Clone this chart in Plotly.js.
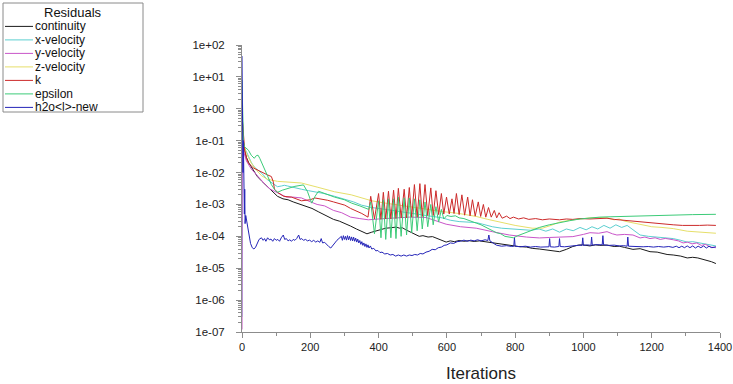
<!DOCTYPE html>
<html><head><meta charset="utf-8">
<script src="https://cdn.plot.ly/plotly-3.0.1.min.js"></script>
<style>html,body{margin:0;padding:0;background:#fff;}#chart{width:733px;height:384px;}</style>
</head><body><div id="chart"></div>
<script>
// ---- data (iteration, residual) ----
const seriesNames = ['continuity','x-velocity','y-velocity','z-velocity','k','epsilon','h2o&lt;l&gt;-new'];
const seriesColors = ['#1a1a1a','#5ccfd0','#c955c9','#e6df6a','#cc2a2a','#3ccb78','#2424b8'];

const continuity = [[0,1.0],[2,0.3],[4,0.09],[8,0.05],[13,0.03],[20,0.02],[33,0.012],[45,0.0075],[57,0.0055],[74,0.0036],[90,0.0024],[104,0.0018],[120,0.0015],[135,0.0014],[150,0.0012],[172,0.001],[190,8.5e-4],[205,7.5e-4],[225,5.8e-4],[245,4.5e-4],[268,3.4e-4],[285,3e-4],[300,2.6e-4],[318,2.1e-4],[335,1.7e-4],[350,1.4e-4],[366,1.2e-4],[380,1.35e-4],[395,1.5e-4],[410,1.6e-4],[421,1.8e-4],[435,1.85e-4],[451,1.95e-4],[462,1.8e-4],[470,1.85e-4],[480,1.6e-4],[495,1.35e-4],[508,1.15e-4],[519,1e-4],[530,1.05e-4],[545,9.5e-5],[558,9.8e-5],[569,8.9e-5],[583,7.5e-5],[598,6.6e-5],[610,7.2e-5],[622,6.8e-5],[636,7.4e-5],[650,7e-5],[665,7.3e-5],[680,6.9e-5],[695,7.2e-5],[710,6.8e-5],[725,6.5e-5],[742,6e-5],[760,5.6e-5],[775,5.2e-5],[792,5e-5],[810,4.8e-5],[833,4.6e-5],[850,4.2e-5],[871,4e-5],[892,3.7e-5],[910,3.4e-5],[930,3.3e-5],[950,3.9e-5],[969,4.8e-5],[985,5.3e-5],[998,5.4e-5],[1019,5e-5],[1035,5.4e-5],[1048,5.2e-5],[1069,5.3e-5],[1090,4.8e-5],[1105,4.9e-5],[1120,4.5e-5],[1145,3.9e-5],[1166,4.1e-5],[1180,3.6e-5],[1195,3.3e-5],[1216,3.2e-5],[1230,2.9e-5],[1245,2.7e-5],[1263,2.6e-5],[1285,2.4e-5],[1304,2.1e-5],[1320,2.2e-5],[1335,2.1e-5],[1350,1.9e-5],[1363,1.8e-5],[1375,1.6e-5],[1388,1.4e-5]];

const xVelocity = [[0,3e-7],[1,0.2],[4,0.1],[7,0.06],[13,0.045],[20,0.03],[28,0.02],[36,0.015],[48,0.012],[60,0.009],[74,0.006],[90,0.0045],[104,0.0036],[116,0.0038],[124,0.004],[133,0.0038],[150,0.0034],[174,0.003],[195,0.0027],[213,0.0025],[240,0.0022],[271,0.0018],[300,0.0015],[327,0.0012],[350,9.5e-4],[366,8.5e-4],[380,8e-4],[420,7e-4],[460,6e-4],[500,5e-4],[545,4.4e-4],[586,3.8e-4],[610,3.2e-4],[636,2.9e-4],[660,2.8e-4],[686,2.7e-4],[705,2.4e-4],[733,2e-4],[760,1.8e-4],[792,1.7e-4],[822,1.6e-4],[845,1.55e-4],[870,1.7e-4],[890,1.45e-4],[910,1.7e-4],[930,1.35e-4],[950,1.7e-4],[970,1.5e-4],[990,1.9e-4],[1008,1.6e-4],[1025,2e-4],[1042,1.7e-4],[1060,2.2e-4],[1078,1.8e-4],[1095,2.3e-4],[1112,1.9e-4],[1128,2.2e-4],[1145,1.6e-4],[1166,1.1e-4],[1190,1e-4],[1215,9.5e-5],[1245,8.9e-5],[1263,8.5e-5],[1285,7.5e-5],[1304,6.6e-5],[1320,6.8e-5],[1342,6.2e-5],[1363,5.6e-5],[1388,5e-5]];

const yVelocity = [[0,1.2e-7],[1,0.08],[4,0.05],[13,0.023],[27,0.013],[42,0.0085],[57,0.0055],[70,0.004],[83,0.003],[100,0.0024],[116,0.002],[130,0.0017],[150,0.0017],[174,0.0016],[201,0.0012],[220,0.001],[242,9e-4],[268,6.5e-4],[292,5.5e-4],[318,4e-4],[345,3.6e-4],[370,3.3e-4],[400,3.5e-4],[440,3.8e-4],[490,4e-4],[539,3.9e-4],[570,3e-4],[598,2.4e-4],[640,2e-4],[686,1.8e-4],[733,1.4e-4],[783,1.1e-4],[833,9.5e-5],[871,8.9e-5],[900,9.2e-5],[930,9.5e-5],[969,9.8e-5],[1000,1.15e-4],[1019,1.3e-4],[1045,1.25e-4],[1069,1.4e-4],[1085,1.2e-4],[1098,1.1e-4],[1120,1.15e-4],[1145,1.1e-4],[1166,8.9e-5],[1180,9.5e-5],[1195,8.5e-5],[1210,9e-5],[1225,8e-5],[1240,8.6e-5],[1263,7.8e-5],[1278,7.2e-5],[1292,6.2e-5],[1305,6.6e-5],[1318,5.8e-5],[1332,6.2e-5],[1345,5.2e-5],[1358,5.6e-5],[1372,4.6e-5],[1388,4.4e-5]];

const zVelocity = [[0,0.4],[2,0.3],[4,0.08],[13,0.04],[27,0.02],[42,0.012],[57,0.008],[74,0.0062],[104,0.0053],[140,0.005],[174,0.0047],[220,0.0035],[271,0.0025],[320,0.002],[351,0.0016],[380,0.0013],[420,0.0011],[460,9.5e-4],[500,8e-4],[540,7e-4],[586,6e-4],[636,5.2e-4],[686,4.2e-4],[720,3.4e-4],[755,2.8e-4],[800,2.2e-4],[850,1.8e-4],[880,1.8e-4],[905,2.2e-4],[930,2.8e-4],[960,3.2e-4],[990,3.5e-4],[1019,3.8e-4],[1045,3.9e-4],[1069,3.8e-4],[1090,3.3e-4],[1105,3.5e-4],[1120,3e-4],[1145,2.6e-4],[1170,2.3e-4],[1200,2e-4],[1230,1.9e-4],[1263,1.75e-4],[1304,1.45e-4],[1340,1.35e-4],[1388,1.25e-4]];

const kResidual = [[0,0.6],[2,0.3],[4,0.15],[8,0.05],[13,0.028],[19,0.02],[33,0.014],[45,0.012],[57,0.01],[74,0.0085],[86,0.0075],[92,0.005],[95,0.003],[104,0.0024],[122,0.0018],[145,0.0017],[174,0.0013],[200,0.0014],[213,0.0016],[230,0.0015],[251,1.35e-3],[268,1.2e-3],[301,9.5e-4],[318,7.5e-4],[351,5.2e-4],[369,4e-4],
 [377,1.8e-3],[388,3.5e-4],[400,2.2e-3],[407,3.4e-4],[414,2.4e-3],[421,3.5e-4],[429,2.6e-3],[436,3.5e-4],[444,2.8e-3],[451,3.6e-4],[458,3.2e-3],[466,3.8e-4],[475,3e-3],[482,3.8e-4],[490,3.4e-3],[497,4e-4],[505,4.2e-3],[513,4e-4],[521,4.5e-3],[528,4.2e-4],[536,4.2e-3],[544,4.5e-4],[553,3.3e-3],[560,4.5e-4],[568,2.7e-3],[576,4.8e-4],[584,2.2e-3],[591,5e-4],[599,1.7e-3],[607,5e-4],[615,1.5e-3],[621,5.2e-4],[628,2.2e-3],[636,4.8e-4],[644,2e-3],[652,4.6e-4],[661,1.7e-3],[668,4.4e-4],[675,1.4e-3],[683,4.3e-4],[692,1.2e-3],[699,4.2e-4],[707,1e-3],[714,4e-4],[722,8e-4],[730,4e-4],[739,6.5e-4],[746,3.8e-4],[753,5.5e-4],[762,3.7e-4],[775,4.3e-4],[785,3.6e-4],[795,4e-4],[810,3.5e-4],[825,3.8e-4],[840,3.4e-4],[860,3.6e-4],[880,3.3e-4],[900,3.5e-4],[930,3.3e-4],[950,3.5e-4],[969,3.4e-4],[990,3.6e-4],[1019,3.5e-4],[1045,3.7e-4],[1069,3.7e-4],[1090,3.4e-4],[1116,3.2e-4],[1145,2.9e-4],[1166,2.8e-4],[1195,2.6e-4],[1216,2.55e-4],[1245,2.35e-4],[1263,2.3e-4],[1290,2.2e-4],[1313,2.15e-4],[1340,2.2e-4],[1363,2.25e-4],[1388,2.2e-4]];

const epsilon = [[0,8],[1,1],[2,0.3],[4,0.1],[7,0.065],[13,0.058],[19,0.05],[27,0.035],[36,0.028],[42,0.034],[47,0.035],[52,0.028],[58,0.02],[66,0.012],[75,0.007],[86,0.0042],[95,0.003],[104,0.0024],[118,0.0028],[133,0.0032],[155,0.0037],[180,0.0041],[192,0.0025],[204,0.0011],[214,0.0018],[224,0.0026],[245,0.0021],[271,0.0017],[300,0.0014],[321,0.0011],[345,9e-4],[360,7.8e-4],[371,7e-4],
 [377,1.2e-3],[388,1.2e-4],[400,1.3e-3],[407,9e-5],[414,1.4e-3],[421,8e-5],[429,1.5e-3],[436,9e-5],[444,1.5e-3],[451,8.5e-5],[458,1.7e-3],[466,1e-4],[475,1.6e-3],[482,1.1e-4],[490,1.6e-3],[497,1.3e-4],[505,1.5e-3],[513,1.5e-4],[521,1.4e-3],[528,1.7e-4],[536,1.2e-3],[544,2e-4],[553,1e-3],[560,2.3e-4],[568,8.5e-4],[576,2.8e-4],[584,7e-4],[591,3.5e-4],[600,4.5e-4],[612,4.2e-4],[625,4.4e-4],[636,3.8e-4],[650,3.6e-4],[668,3e-4],[686,2.6e-4],[700,2.3e-4],[715,1.9e-4],[730,1.6e-4],[745,1.3e-4],[758,1.2e-4],[770,1e-4],[782,9.5e-5],[795,9e-5],[808,1.05e-4],[822,1.2e-4],[845,1.5e-4],[871,1.9e-4],[900,2.3e-4],[930,2.7e-4],[960,3.1e-4],[990,3.5e-4],[1020,3.8e-4],[1048,4e-4],[1078,4.1e-4],[1110,4.2e-4],[1140,4.3e-4],[1166,4.4e-4],[1215,4.5e-4],[1263,4.6e-4],[1320,4.8e-4],[1388,4.9e-4]];

const h2oNew = [[0,45],[1,0.05],[2,0.5],[3,0.01],[4,0.1],[5,0.002],[6,0.03],[7,5e-4],[8,0.003],[9,2.5e-4],[11,4.5e-4],[13,3.5e-4],[15,2.2e-4],[18,1.5e-4],[21,1e-4],[25,6e-5],[30,4.4e-5],[35,4e-5],[40,4.6e-5],[45,6e-5],[50,8e-5],[57,9e-5],[62,7.5e-5],[66,8.5e-5],[70,7e-5],[75,9e-5],[80,7.8e-5],[85,8.2e-5],[90,7e-5],[95,8.5e-5],[100,7.5e-5],[105,8e-5],[110,7e-5],[115,9e-5],[121,1.1e-4],[125,8e-5],[130,8.5e-5],[135,7.2e-5],[140,7.8e-5],[145,7e-5],[150,8e-5],[155,7.5e-5],[160,8.5e-5],[166,1.1e-4],[170,8e-5],[175,8.5e-5],[180,7.5e-5],[186,8e-5],[192,7.2e-5],[198,7.6e-5],[204,6.8e-5],[210,7.5e-5],[216,6.6e-5],[222,7.2e-5],[228,6.5e-5],[232,8.5e-5],[236,6.2e-5],[242,6.5e-5],[248,5.5e-5],[254,4.8e-5],[260,4.3e-5],[266,5e-5],[272,6.2e-5],[278,7.5e-5],[284,8.5e-5],[288,9.5e-5],
 [291,1e-4],[294,7.5e-5],[297,1.05e-4],[300,8e-5],[303,1e-4],[306,7.6e-5],[309,1.05e-4],[312,7.8e-5],[315,1e-4],[318,7.4e-5],[321,9.6e-5],[324,7.2e-5],[327,9.4e-5],[330,7e-5],[333,8.8e-5],[336,6.6e-5],[339,8.2e-5],[342,6.2e-5],[345,7.4e-5],[348,5.6e-5],[351,6.8e-5],[354,5.2e-5],[357,6.2e-5],[360,4.8e-5],[363,5.8e-5],[366,4.5e-5],[369,5.4e-5],[372,4.3e-5],[376,5e-5],[380,4e-5],[386,4.2e-5],[392,3.5e-5],[398,3.6e-5],[404,3.1e-5],[410,3.2e-5],[418,2.8e-5],[426,2.9e-5],[434,2.6e-5],[442,2.7e-5],[450,2.4e-5],[458,2.6e-5],[466,2.4e-5],[474,2.6e-5],[482,2.4e-5],[490,2.6e-5],[498,2.5e-5],[506,2.7e-5],[514,2.6e-5],[522,2.9e-5],[530,2.8e-5],[539,3.2e-5],[548,3.4e-5],[557,3.9e-5],[566,3.8e-5],[575,4.4e-5],[584,4.6e-5],[592,5.2e-5],[600,5.4e-5],[610,6.2e-5],[620,6e-5],[630,6.8e-5],[640,7e-5],[650,7.6e-5],[660,7e-5],[670,7.6e-5],[680,7.2e-5],[690,7.8e-5],[700,7.2e-5],[712,7.8e-5],[720,7.4e-5],[723,1.1e-4],[726,7.2e-5],[735,6.2e-5],[745,5.3e-5],
 [760,4.9e-5],[775,5.1e-5],[790,4.8e-5],[796,4.9e-5],[798,9e-5],[800,4.9e-5],[815,4.7e-5],[830,4.9e-5],[845,4.6e-5],[860,4.8e-5],[875,4.6e-5],[890,4.8e-5],[899,4.7e-5],[901,8.5e-5],[903,4.7e-5],[915,4.6e-5],[928,4.8e-5],[930,8.5e-5],[932,4.8e-5],[945,4.7e-5],[960,5e-5],[975,5.1e-5],[990,5.3e-5],[996,5.2e-5],[998,9e-5],[1000,5.2e-5],[1012,5.4e-5],[1022,5.2e-5],[1024,9.5e-5],[1026,5.3e-5],[1040,5.5e-5],[1055,5.4e-5],[1057,1.05e-4],[1059,5.4e-5],[1075,5.2e-5],[1090,5.3e-5],[1105,5e-5],[1118,5.1e-5],[1128,4.9e-5],[1130,9.5e-5],[1132,4.9e-5],[1145,4.8e-5],[1160,4.9e-5],[1175,4.7e-5],[1190,4.8e-5],[1205,4.6e-5],[1220,4.8e-5],[1235,4.6e-5],[1250,4.8e-5],[1262,4.5e-5],[1272,4.9e-5],[1280,4.4e-5],[1288,4.9e-5],[1296,4.4e-5],[1304,5e-5],[1312,4.4e-5],[1320,5e-5],[1328,4.3e-5],[1336,4.9e-5],[1344,4.4e-5],[1352,5e-5],[1360,4.3e-5],[1368,4.9e-5],[1376,4.4e-5],[1388,4.7e-5]];

const xTickVals = [0,200,400,600,800,1000,1200,1400];
const yTickVals = [1e2,1e1,1e0,1e-1,1e-2,1e-3,1e-4,1e-5,1e-6,1e-7];
const yTickText = ['1e+02','1e+01','1e+00','1e-01','1e-02','1e-03','1e-04','1e-05','1e-06','1e-07'];
const legendTitle = 'Residuals';
const xTitle = 'Iterations';

// ---- layout geometry ----
const W = 733, H = 384, ML = 242, MR = 13, MT = 45, MB = 52;
const PW = W - ML - MR, PH = H - MT - MB;
const px = x => (x - ML) / PW;
const py = y => (H - MB - y) / PH;

const allSeries = [continuity, xVelocity, yVelocity, zVelocity, kResidual, epsilon, h2oNew];
const FONT = 'Liberation Sans, Arial, sans-serif';

const traces = allSeries.map((s, i) => ({
  type: 'scatter', mode: 'lines',
  x: s.map(p => p[0]), y: s.map(p => p[1]),
  line: {color: seriesColors[i], width: 1},
  name: seriesNames[i], hoverinfo: 'skip'
}));

const shapes = [{type:'rect', xref:'paper', yref:'paper', x0:px(3), x1:px(143), y0:py(112), y1:py(3),
  line:{color:'#8a8a8a', width:1}, fillcolor:'rgba(255,255,255,0)'}];
const annotations = [{xref:'paper', yref:'paper', x:px(73), y:py(12), text:legendTitle, showarrow:false,
  xanchor:'center', yanchor:'middle', borderpad:0,
  font:{family:FONT, size:13, color:'#111'}}];
const legendY0 = 26.4, legendDY = 13.5;
seriesNames.forEach((n, i) => {
  const yy = legendY0 + i * legendDY;
  shapes.push({type:'line', xref:'paper', yref:'paper', x0:px(5), x1:px(33), y0:py(yy), y1:py(yy),
    line:{color:seriesColors[i], width:1}});
  annotations.push({xref:'paper', yref:'paper', x:px(34), y:py(yy), text:n, showarrow:false,
    xanchor:'left', yanchor:'middle', borderpad:0,
    font:{family:FONT, size:12, color:'#111'}});
});

const layout = {
  width: W, height: H,
  margin: {l: ML, r: MR, t: MT, b: MB, pad: 0},
  paper_bgcolor: '#fff', plot_bgcolor: '#fff',
  showlegend: false,
  font: {family: FONT, color: '#222', size: 11},
  xaxis: {
    range: [0, 1400], tickmode: 'array', tickvals: xTickVals,
    showgrid: false, zeroline: false, showline: true, linecolor: '#8c8c8c', linewidth: 1,
    ticks: 'outside', ticklen: 5, tickcolor: '#8c8c8c', tickfont: {size: 11, color: '#222'},
    minor: {dtick: 100, ticks: 'outside', ticklen: 3, tickcolor: '#8c8c8c'},
    layer: 'below traces',
    title: {text: xTitle, font: {size: 17, color: '#222'}, standoff: 14}
  },
  yaxis: {
    type: 'log', range: [-7, 2], tickmode: 'array', tickvals: yTickVals, ticktext: yTickText,
    showgrid: false, zeroline: false, showline: true, linecolor: '#8c8c8c', linewidth: 1,
    ticks: 'outside', ticklen: 5, tickcolor: '#8c8c8c', tickfont: {size: 11.5, color: '#222'},
    ticklabelstandoff: 9,
    minor: {dtick: 'D1', ticks: 'outside', ticklen: 3, tickcolor: '#8c8c8c'},
    layer: 'below traces'
  },
  shapes: shapes,
  annotations: annotations
};

Plotly.newPlot('chart', traces, layout, {staticPlot: true, displayModeBar: false});
</script>
</body></html>
